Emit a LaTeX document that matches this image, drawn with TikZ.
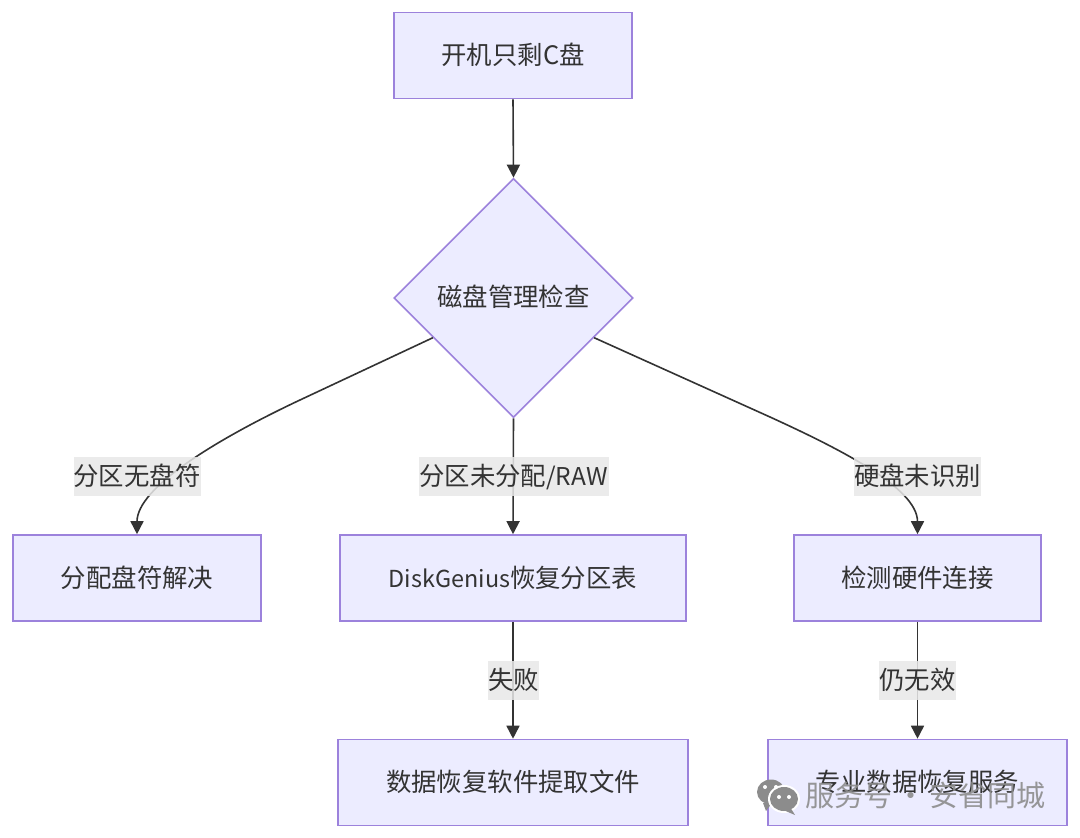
\documentclass[tikz,border=0pt]{standalone}
\usepackage{fontspec}
\setmainfont{Noto Sans CJK SC}
\usetikzlibrary{shapes.geometric,arrows.meta,calc}
\definecolor{nodefill}{HTML}{ECECFF}
\definecolor{nodeline}{HTML}{9C82DC}
\definecolor{ink}{HTML}{333333}
\definecolor{labelbg}{HTML}{E8E8E8}
\definecolor{wm}{HTML}{8C8C8C}
\tikzset{
  txt/.style={text=ink,font=\fontsize{25.4}{30}\selectfont,text height=21pt,text depth=3pt},
  box/.style={txt,draw=nodeline,fill=nodefill,line width=1.6pt,rectangle,minimum height=86pt,inner sep=0pt},
  decision/.style={txt,text height=18pt,text depth=2pt,draw=nodeline,fill=nodefill,line width=1.6pt,diamond,aspect=1,minimum size=239pt,inner sep=0pt},
  edge/.style={draw=ink,line width=1.6pt,-{Triangle[length=13pt,width=13pt]}},
  elabel/.style={txt,fill=labelbg,fill opacity=0.85,text opacity=1,inner sep=0pt,minimum height=39pt},
}
\begin{document}
\begin{tikzpicture}[x=1pt,y=-1pt]
\useasboundingbox (0,0) rectangle (1080,838);
\fill[white] (0,0) rectangle (1080,838);
\node[box,minimum width=238pt] (start) at (513,55.5) {开机只剩C盘};
\node[decision] (check) at (513.5,298) {磁盘管理检查};
\node[box,minimum width=248pt] (assign) at (137,578) {分配盘符解决};
\node[box,minimum width=346pt] (dg) at (513,578) {{\fontsize{23.4}{30}\selectfont DiskGenius}恢复分区表};
\node[box,minimum width=247pt] (hw) at (917.5,578) {检测硬件连接};
\node[box,minimum width=350pt] (soft) at (513,782.5) {数据恢复软件提取文件};
\node[box,minimum width=299pt] (svc) at (917.5,782.5) {专业数据恢复服务};
\coordinate (cl) at ($(check.west)!0.33!(check.south)$);
\coordinate (cr) at ($(check.east)!0.33!(check.south)$);
\draw[edge] (start.south) -- (check.north);
\draw[edge] (cl) -- (300,400) .. controls (215,440) and (137,488) .. (assign.north);
\draw[edge] (check.south) -- (dg.north);
\draw[edge] (cr) -- (770,417) .. controls (840,449) and (917.5,488) .. (hw.north);
\draw[edge] (dg.south) -- (soft.north);
\draw[edge] (hw.south) -- (svc.north);
\node[elabel,minimum width=127pt] (l1) at (137,476.5) {分区无盘符};
\node[elabel,minimum width=190pt] (l2) at (513.5,476.5) {分区未分配{\fontsize{24.5}{30}\selectfont /RAW}};
\node[elabel,minimum width=127pt] (l3) at (917.5,476.5) {硬盘未识别};
\node[elabel,minimum width=51pt] (l4) at (513.5,680) {失败};
\node[elabel,minimum width=76pt] (l5) at (917.5,680) {仍无效};
% watermark
\fill[wm] (771,792) ellipse (14pt and 12.5pt);
\fill[wm] (763,803) -- (766,811) -- (772,803) -- cycle;
\fill[white] (784,799) ellipse (16pt and 14pt);
\fill[wm] (784,799) ellipse (14pt and 12pt);
\fill[wm] (790,807) -- (795,815) -- (781,809) -- cycle;
\fill[white] (779,797) circle (2pt) (789,797) circle (2pt);
\fill[white] (765,787) circle (2pt) (776,787) circle (2pt);
\node[text=wm,text opacity=0.9,font=\fontsize{29}{34}\selectfont,inner sep=0pt,anchor=center] (mark) at (925.5,795) {服务号\hspace{4.5pt}·\hspace{4.5pt}安省同城};
\end{tikzpicture}
\end{document}
